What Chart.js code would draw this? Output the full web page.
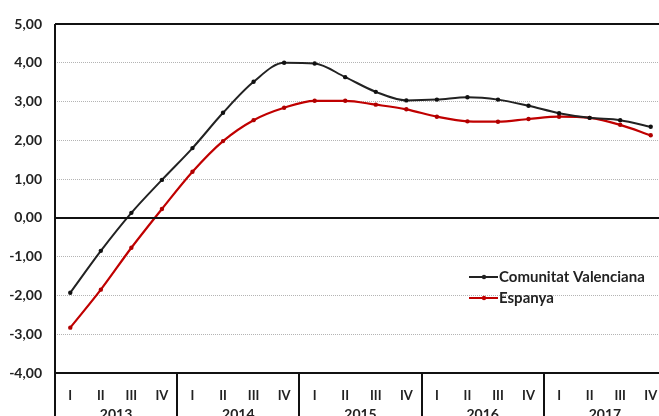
<!DOCTYPE html>
<html>
<head>
<meta charset="utf-8">
<script src="https://cdn.jsdelivr.net/npm/chart.js@4/dist/chart.umd.min.js"></script>
<style>
  html, body { margin: 0; padding: 0; background: #fff; overflow: hidden; }
  canvas { display: block; }
</style>
</head>
<body>
<canvas id="chart" width="680" height="430"></canvas>
<script>
  const quarters = ["I", "II", "III", "IV", "I", "II", "III", "IV", "I", "II", "III", "IV",
                    "I", "II", "III", "IV", "I", "II", "III", "IV"];
  const years = ["2013", "2014", "2015", "2016", "2017"];

  const valenciana = [-1.93, -0.85, 0.13, 0.98, 1.80, 2.71, 3.51, 4.00, 3.98, 3.63,
                      3.25, 3.03, 3.05, 3.11, 3.05, 2.89, 2.70, 2.58, 2.52, 2.35];
  const espanya = [-2.83, -1.85, -0.77, 0.23, 1.19, 1.98, 2.52, 2.84, 3.02, 3.02,
                   2.92, 2.80, 2.61, 2.49, 2.48, 2.55, 2.61, 2.58, 2.40, 2.13];

  const FONT = "Lato, 'Open Sans', sans-serif";

  // marcos, linea del cero, separadores y etiquetas de años, leyenda
  const framePlugin = {
    id: "frame",
    afterDraw(chart) {
      const c = chart.ctx;
      const area = chart.chartArea;
      const x = chart.scales.x;
      const y = chart.scales.y;
      const bottom = chart.height;
      c.save();
      c.strokeStyle = "#111";
      c.lineWidth = 2;
      c.beginPath();
      c.moveTo(area.left, area.top);
      c.lineTo(area.right, area.top);
      c.moveTo(area.left, area.top);
      c.lineTo(area.left, bottom);
      c.moveTo(area.left, area.bottom);
      c.lineTo(area.right, area.bottom);
      const y0 = y.getPixelForValue(0);
      c.moveTo(area.left, y0);
      c.lineTo(area.right, y0);
      const half = (x.getPixelForValue(1) - x.getPixelForValue(0)) / 2;
      for (let i = 4; i < quarters.length; i += 4) {
        const px = Math.round(x.getPixelForValue(i) - half);
        c.moveTo(px, area.bottom);
        c.lineTo(px, bottom);
      }
      c.stroke();

      c.fillStyle = "#222";
      c.font = "bold 14px " + FONT;
      c.textAlign = "center";
      c.textBaseline = "top";
      years.forEach(function(yr, k) {
        const cx = (x.getPixelForValue(k * 4) + x.getPixelForValue(k * 4 + 3)) / 2;
        c.fillText(yr, cx, 407);
      });

      // leyenda
      const items = [
        { label: "Comunitat Valenciana", color: "#222222", y: 277 },
        { label: "Espanya", color: "#c00000", y: 298 }
      ];
      c.font = "bold 15px " + FONT;
      c.textAlign = "left";
      c.textBaseline = "middle";
      items.forEach(function(it) {
        c.strokeStyle = it.color;
        c.lineWidth = 2;
        c.beginPath();
        c.moveTo(469, it.y);
        c.lineTo(498, it.y);
        c.stroke();
        c.fillStyle = it.color;
        c.beginPath();
        c.arc(484, it.y, 2.2, 0, Math.PI * 2);
        c.fill();
        c.fillStyle = "#222";
        c.fillText(it.label, 499, it.y);
      });
      c.restore();
    }
  };

  const ctx = document.getElementById("chart").getContext("2d");

  new Chart(ctx, {
    type: "line",
    data: {
      labels: quarters,
      datasets: [
        {
          label: "Comunitat Valenciana",
          data: valenciana,
          borderColor: "#222222",
          backgroundColor: "#111111",
          borderWidth: 2,
          cubicInterpolationMode: "monotone",
          pointRadius: 2.2,
          pointBorderWidth: 0
        },
        {
          label: "Espanya",
          data: espanya,
          borderColor: "#c00000",
          backgroundColor: "#b00000",
          borderWidth: 2.2,
          cubicInterpolationMode: "monotone",
          pointRadius: 2.2,
          pointBorderWidth: 0
        }
      ]
    },
    options: {
      responsive: false,
      animation: false,
      layout: { padding: { top: 24, right: 14, left: 0, bottom: 0 } },
      plugins: {
        legend: { display: false },
        tooltip: { enabled: false }
      },
      scales: {
        x: {
          type: "category",
          offset: true,
          grid: { display: false },
          border: { display: false },
          ticks: {
            color: "#222",
            font: { family: FONT, size: 13, weight: "bold" },
            maxRotation: 0,
            autoSkip: false,
            padding: 7
          },
          afterFit(scale) { scale.height = 57; }
        },
        y: {
          min: -4,
          max: 5,
          grid: { color: "#b4b4b4", lineWidth: 1, drawTicks: false },
          border: { display: false, dash: [1, 1] },
          ticks: {
            stepSize: 1,
            color: "#222",
            padding: 13,
            font: { family: FONT, size: 14, weight: "bold" },
            callback: function(value) {
              return value.toFixed(2).replace(".", ",");
            }
          },
          afterFit(scale) { scale.width = 55; }
        }
      }
    },
    plugins: [framePlugin]
  });
</script>
</body>
</html>
